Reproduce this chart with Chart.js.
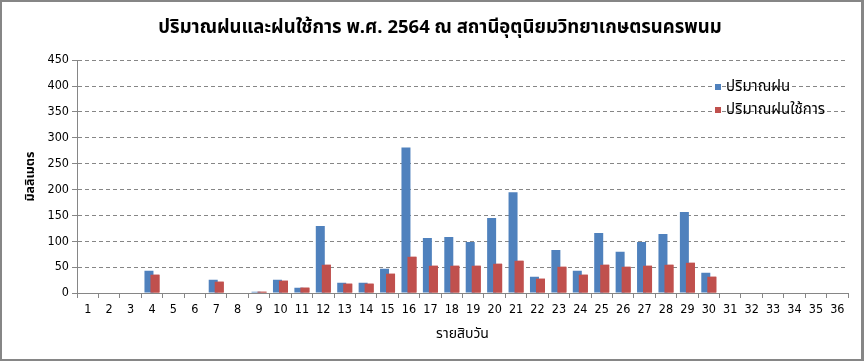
<!DOCTYPE html>
<html>
<head>
<meta charset="utf-8">
<script src="https://cdn.jsdelivr.net/npm/chart.js@4/dist/chart.umd.min.js"></script>
<style>
  html, body { margin: 0; padding: 0; background: #fff; }
  #wrap { position: relative; width: 864px; height: 361px; }
  #frame { position: absolute; left: 0; top: 0; width: 864px; height: 361px; box-sizing: border-box; border: 2px solid #868686; border-right-width: 3px; border-bottom-width: 2px; }
  canvas { position: absolute; left: 0; top: 0; }
  #legend { position: absolute; left: 714px; top: 77px; font-family: Tahoma, "Noto Sans Thai", "DejaVu Sans", sans-serif; font-size: 15px; color: #000; }
  .item { position: relative; height: 23px; line-height: 20px; padding-left: 12px; white-space: nowrap; }
  .sw { position: absolute; left: 1px; top: 7px; width: 6px; height: 6px; }
</style>
</head>
<body>
<div id="wrap">
  <div id="frame"></div>
  <canvas id="c" width="864" height="361"></canvas>
  <div id="legend"></div>
</div>
<script>
const chartTitle = "ปริมาณฝนและฝนใช้การ พ.ศ. 2564 ณ สถานีอุตุนิยมวิทยาเกษตรนครพนม";
const xTitle = "รายสิบวัน";
const yTitle = "มิลลิเมตร";
const seriesNames = ["ปริมาณฝน", "ปริมาณฝนใช้การ"];
const categories = ["1","2","3","4","5","6","7","8","9","10","11","12","13","14","15","16","17","18","19","20","21","22","23","24","25","26","27","28","29","30","31","32","33","34","35","36"];
const rainfall = [0,0,0,43,0,0,25.6,0,2.5,25.6,10.3,129.5,19.9,19.9,46.8,281.4,106.4,108.3,98.7,144.9,194.9,31.4,83.3,42.9,116,79.5,98.7,114,156.4,39.1,null,null,null,null,null,null];
const effectiveRain = [0,0,0,35.3,0,0,21.8,0,2.4,23.7,10.3,54.5,18,18,37.2,69.9,52.6,52.6,52.6,56.4,62.2,27.6,50.6,35.3,54.5,50.6,52.6,54.5,58.3,31.4,null,null,null,null,null,null];
const yTicks = [0,50,100,150,200,250,300,350,400,450];

const colors = ["#4F81BD", "#C0504D"];
const axisColor = "#868686";
const numFont = "'DejaVu Sans Condensed', 'DejaVu Sans', sans-serif";
const thaiFont = "Tahoma, 'Noto Sans Thai', 'DejaVu Sans', sans-serif";

// HTML legend
const lg = document.getElementById('legend');
seriesNames.forEach((n, i) => {
  const d = document.createElement('div'); d.className = 'item';
  const s = document.createElement('span'); s.className = 'sw'; s.style.background = colors[i];
  d.appendChild(s); d.appendChild(document.createTextNode(n)); lg.appendChild(d);
});

const redOnTop = {
  id: 'redOnTop',
  afterDatasetsDraw(chart) { chart.getDatasetMeta(1).controller.draw(); }
};

new Chart(document.getElementById('c'), {
  type: 'bar',
  data: {
    labels: categories,
    datasets: [
      { label: seriesNames[0], data: rainfall, backgroundColor: colors[0], categoryPercentage: 0.56, barPercentage: 1.5 },
      { label: seriesNames[1], data: effectiveRain, backgroundColor: colors[1], categoryPercentage: 0.56, barPercentage: 1.5 }
    ]
  },
  options: {
    responsive: false,
    animation: false,
    layout: { padding: { left: 32, right: 16, top: 0, bottom: 0 } },
    plugins: {
      legend: { display: false },
      tooltip: { enabled: false },
      title: {
        display: true, text: chartTitle, color: '#000',
        font: { family: thaiFont, size: 18.5, weight: 'bold' },
        padding: { top: 18, bottom: 20 }
      }
    },
    scales: {
      x: {
        grid: { display: true, drawOnChartArea: false, offset: true, tickLength: 5, color: axisColor },
        border: { color: axisColor, width: 1 },
        ticks: { color: '#000', font: { family: numFont, size: 12.5 }, padding: 4, maxRotation: 0, autoSkip: false },
        title: { display: true, text: xTitle, color: '#000', font: { family: thaiFont, size: 14 }, padding: { top: 0, bottom: 17 } },
        afterFit(s) { s.height = 68; }
      },
      y: {
        min: 0, max: 450,
        afterBuildTicks(s) { s.ticks = yTicks.map(v => ({ value: v })); },
        grid: { color: axisColor, tickLength: 5, tickBorderDash: [] },
        border: { color: axisColor, width: 1, dash: [4, 3] },
        ticks: { color: '#000', font: { family: numFont, size: 12.5 }, padding: 3 },
        title: { display: true, text: yTitle, color: '#000', font: { family: thaiFont, size: 12.5, weight: 'bold' }, padding: { top: -8.5, bottom: 0 } },
        afterFit(s) { s.width = 45; }
      }
    }
  },
  plugins: [redOnTop]
});
</script>
</body>
</html>
